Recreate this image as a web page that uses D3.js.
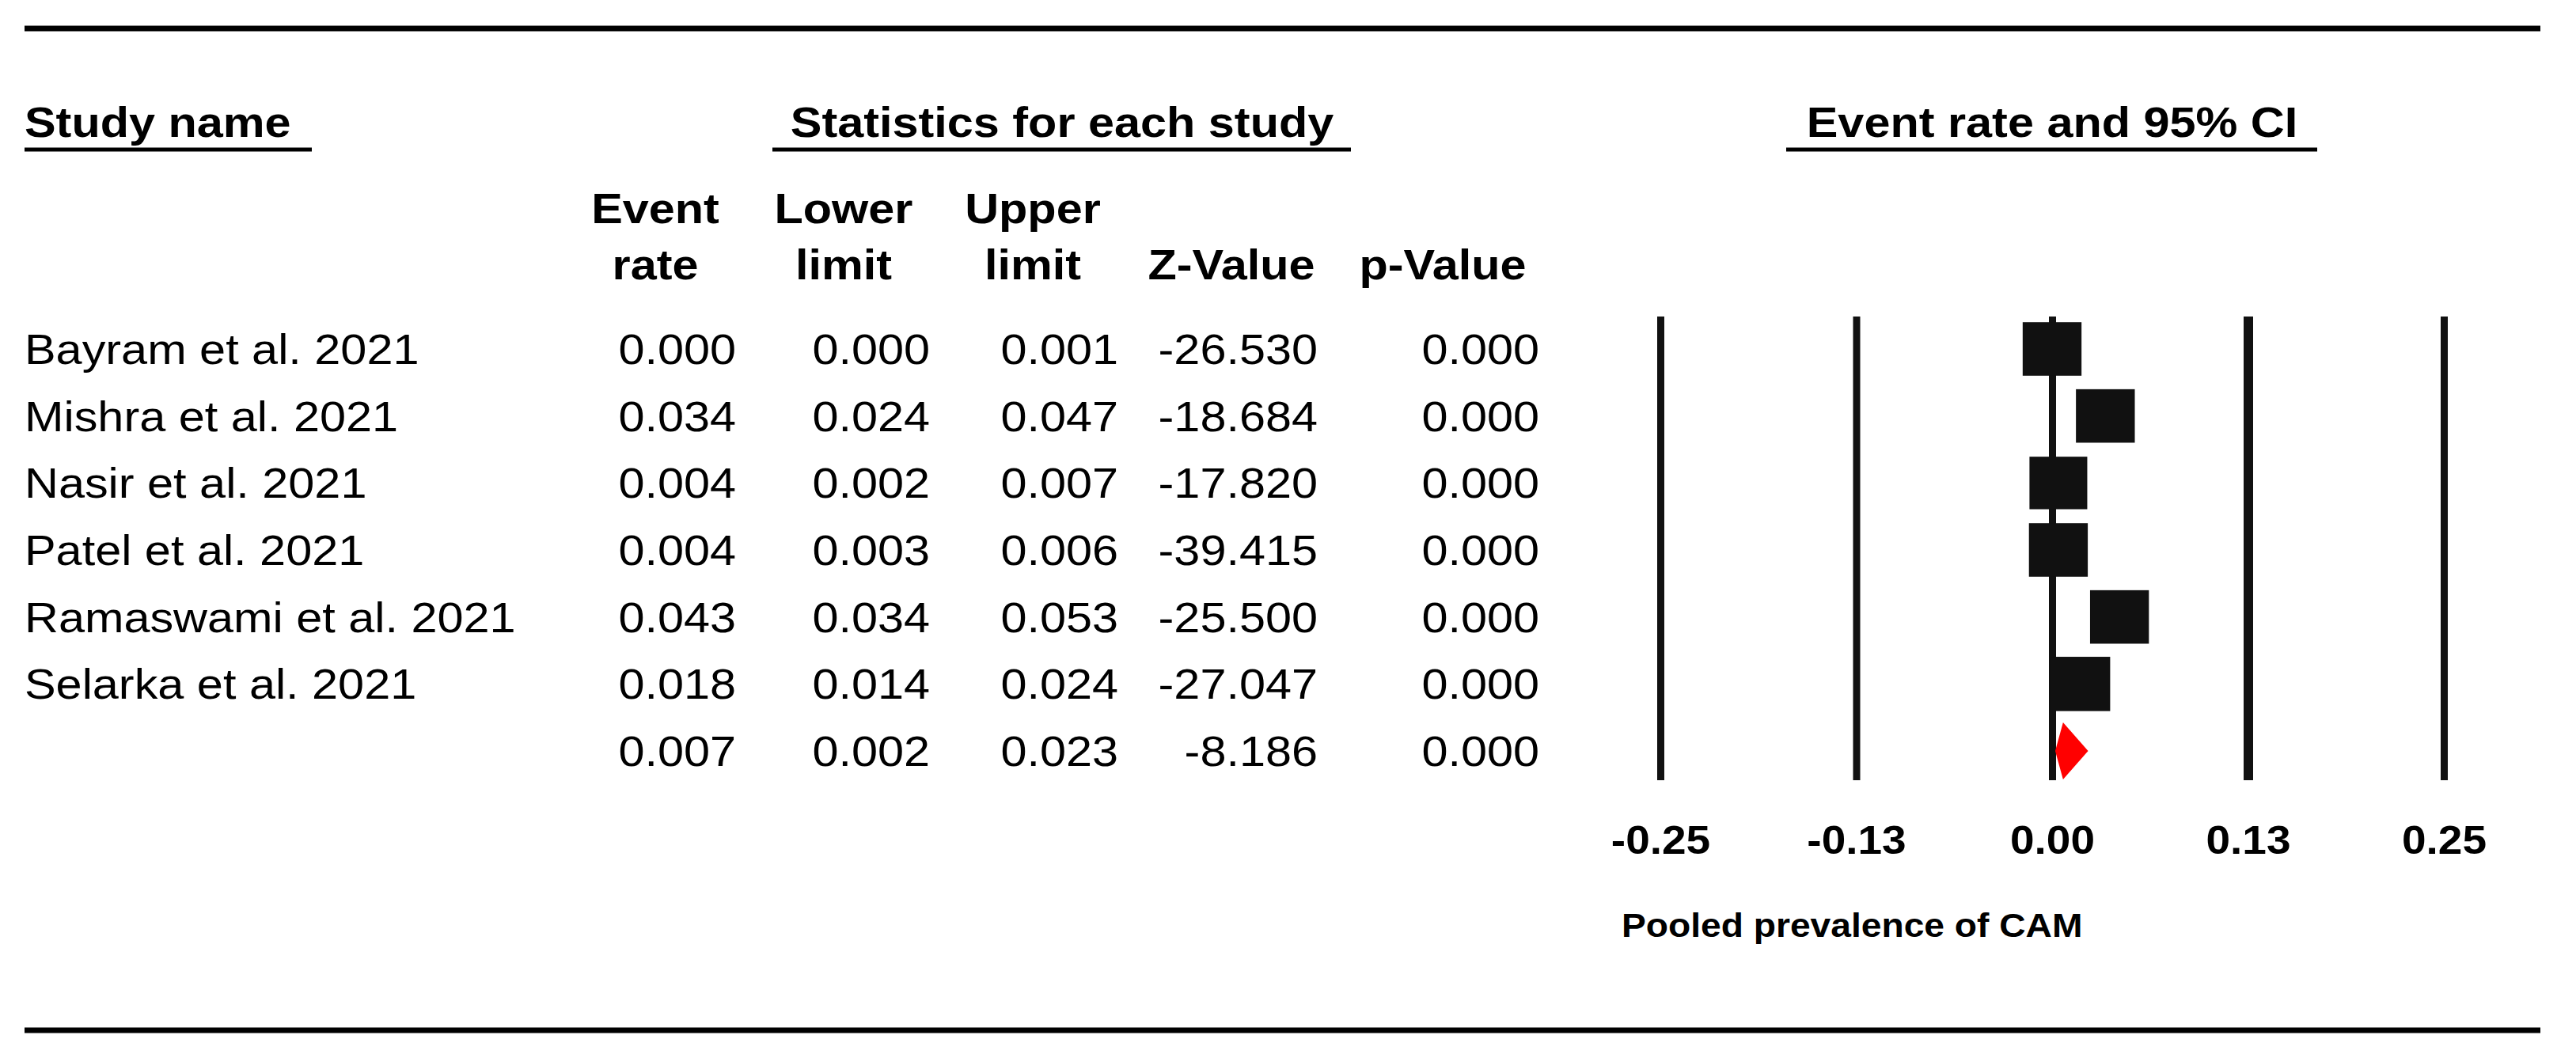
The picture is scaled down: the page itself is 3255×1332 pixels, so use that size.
<!DOCTYPE html>
<html>
<head>
<meta charset="utf-8">
<script src="https://cdn.jsdelivr.net/npm/d3@7"></script>
<style>
  body { margin: 0; background: #fff; }
  text { font-family: "Liberation Sans", Arial, sans-serif; fill: #000; }
</style>
</head>
<body>
<script>
// data
var studies = ["Bayram et al. 2021", "Mishra et al. 2021", "Nasir et al. 2021",
               "Patel et al. 2021", "Ramaswami et al. 2021", "Selarka et al. 2021"];
var eventRate  = [0.000, 0.034, 0.004, 0.004, 0.043, 0.018];
var lowerLimit = [0.000, 0.024, 0.002, 0.003, 0.034, 0.014];
var upperLimit = [0.001, 0.047, 0.007, 0.006, 0.053, 0.024];
var zValue     = [-26.530, -18.684, -17.820, -39.415, -25.500, -27.047];
var pValue     = [0.000, 0.000, 0.000, 0.000, 0.000, 0.000];
// relative weights (%), estimated from the square sizes
var weights    = [16.8, 16.8, 16.2, 16.8, 16.8, 17.3];
// pooled row: event rate, lower, upper, z, p
var pooledStats = [0.007, 0.002, 0.023, -8.186, 0.000];
var axisTicks = [-0.25, -0.125, 0, 0.125, 0.25];

var width = 3255, height = 1332;
var SX = 1.1; // the picture is slightly stretched sideways

var svg = d3.select("body").append("svg")
    .attr("width", width)
    .attr("height", height);

function label(x, y, str, size, bold, anchor) {
  return svg.append("text")
    .attr("transform", "translate(" + x + "," + y + ") scale(" + SX + ",1)")
    .attr("text-anchor", anchor || "start")
    .style("font-size", size + "px")
    .style("font-weight", bold ? "bold" : "normal")
    .text(str);
}

function rule(x1, x2, y, w) {
  svg.append("line")
    .attr("x1", x1).attr("x2", x2)
    .attr("y1", y).attr("y2", y)
    .attr("stroke", "#000")
    .attr("stroke-width", w);
}

// frame rules
rule(31, 3210, 36, 7);
rule(31, 3210, 1302, 7);

// group headers
label(31, 173, "Study name", 54, true);
rule(31, 394, 189, 5);
label(1342, 173, "Statistics for each study", 54, true, "middle");
rule(976, 1707, 189, 5);
label(2593, 173, "Event rate and 95% CI", 54, true, "middle");
rule(2257, 2928, 189, 5);

// column headers
var colRight = [930, 1175, 1413, 1665, 1945];
label(828, 282, "Event", 54, true, "middle");
label(828, 353, "rate", 54, true, "middle");
label(1066, 282, "Lower", 54, true, "middle");
label(1066, 353, "limit", 54, true, "middle");
label(1305, 282, "Upper", 54, true, "middle");
label(1305, 353, "limit", 54, true, "middle");
label(1556, 353, "Z-Value", 54, true, "middle");
label(1823, 353, "p-Value", 54, true, "middle");

// rows
var y = d3.scaleLinear().domain([0, 6]).range([441, 949]);
var fmt = function(v) { return v.toFixed(3); };

studies.forEach(function(name, i) {
  var base = y(i) + 19;
  label(31, base, name, 54, false);
  [eventRate[i], lowerLimit[i], upperLimit[i], zValue[i], pValue[i]].forEach(function(v, j) {
    label(colRight[j], base, fmt(v), 54, false, "end");
  });
});
pooledStats.forEach(function(v, j) {
  label(colRight[j], y(6) + 19, fmt(v), 54, false, "end");
});

// forest plot
var x = d3.scaleLinear().domain([-0.25, 0.25]).range([2098, 3088]);
var plotTop = 400, plotBottom = 986;

var axis = svg.append("g")
    .attr("transform", "translate(0," + plotBottom + ")")
    .call(d3.axisBottom(x)
      .tickValues(axisTicks)
      .tickSize(-(plotBottom - plotTop))
      .tickPadding(58)
      .tickFormat(function(d) { return d.toFixed(2); }));
axis.select(".domain").remove();
axis.selectAll(".tick line")
    .attr("stroke", "#111")
    .attr("stroke-width", function(d) { return d === 0.125 ? 12 : 9; });
axis.selectAll(".tick text")
    .attr("fill", "#000")
    .attr("transform", "scale(" + SX + ",1)")
    .style("font-family", "'Liberation Sans', Arial, sans-serif")
    .style("font-size", "50px")
    .style("font-weight", "bold");

// confidence intervals
var rows = studies.map(function(s, i) {
  return {name: s, er: eventRate[i], ll: lowerLimit[i], ul: upperLimit[i], w: weights[i], i: i};
});
svg.append("g").selectAll("line")
  .data(rows).enter().append("line")
    .attr("x1", function(d) { return x(d.ll); })
    .attr("x2", function(d) { return x(d.ul); })
    .attr("y1", function(d) { return y(d.i); })
    .attr("y2", function(d) { return y(d.i); })
    .attr("stroke", "#111")
    .attr("stroke-width", 4);

// weight squares
var side = d3.scaleSqrt().domain([0, 17]).range([0, 68]);
svg.append("g").selectAll("rect")
  .data(rows).enter().append("rect")
    .attr("x", function(d) { return x(d.er) - side(d.w) * SX / 2; })
    .attr("y", function(d) { return y(d.i) - side(d.w) / 2; })
    .attr("width", function(d) { return side(d.w) * SX; })
    .attr("height", function(d) { return side(d.w); })
    .attr("fill", "#111");

// pooled diamond
var cy = y(6), dh = 36;
svg.append("path")
    .attr("d", "M" + x(pooledStats[1]) + "," + cy +
               "L" + x(pooledStats[0]) + "," + (cy - dh) +
               "L" + x(pooledStats[2]) + "," + cy +
               "L" + x(pooledStats[0]) + "," + (cy + dh) + "Z")
    .attr("fill", "#ff0000");

// axis title
label(2049, 1184, "Pooled prevalence of CAM", 42, true);
</script>
</body>
</html>
